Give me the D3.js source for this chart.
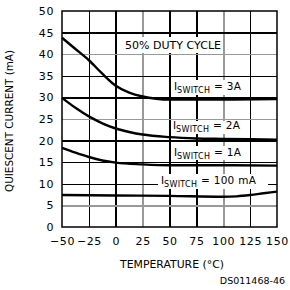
<!DOCTYPE html>
<html>
<head>
<meta charset="utf-8">
<script src="https://cdn.jsdelivr.net/npm/d3@7"></script>
<style>
  body { margin: 0; background: #fff; }
  svg text { font-family: "DejaVu Sans", sans-serif; fill: #000; }
  .grid .tick line { shape-rendering: crispEdges; }
</style>
</head>
<body>
<div id="chart"></div>
<script>
// temperature (C) vs quiescent current (mA)
var temps3A   = [-50, -37.5, -25, -12.5, 0, 12.5, 25, 37.5, 50, 100, 150];
var current3A = [43.8, 41.2, 38.6, 35.5, 32.7, 31.1, 30.2, 29.7, 29.5, 29.5, 29.6];

var temps2A   = [-50, -37.5, -25, -12.5, 0, 12.5, 25, 50, 75, 100, 150];
var current2A = [29.9, 27.6, 25.6, 24.0, 22.8, 22.0, 21.4, 20.8, 20.5, 20.4, 20.2];

var temps1A   = [-50, -37.5, -25, -12.5, 0, 25, 50, 100, 150];
var current1A = [18.3, 17.2, 16.2, 15.4, 14.9, 14.5, 14.3, 14.3, 14.2];

var temps100mA   = [-50, 0, 50, 100, 112.5, 125, 137.5, 150];
var current100mA = [7.4, 7.3, 7.2, 7.0, 7.1, 7.4, 7.8, 8.2];

var xTicks = [-50, -25, 0, 25, 50, 75, 100, 125, 150];
var yTicks = [0, 5, 10, 15, 20, 25, 30, 35, 40, 45, 50];
var grayX = [25, 100], thickX = [0, 75];
var grayY = [5, 25, 40];

var margin = {top: 11, right: 13, bottom: 63, left: 62};
var W = 290, H = 290;
var w = W - margin.left - margin.right, h = H - margin.top - margin.bottom;

var svg = d3.select('#chart').append('svg').attr('width', W).attr('height', H);
var g = svg.append('g').attr('transform', 'translate(' + margin.left + ',' + margin.top + ')');

var x = d3.scaleLinear().domain([-50, 150]).range([0, w]);
var y = d3.scaleLinear().domain([0, 50]).range([h, 0]);

// grid from axes with full-length ticks
var gridX = g.append('g').attr('class', 'grid').attr('transform', 'translate(0,' + h + ')')
    .call(d3.axisBottom(x).tickValues(xTicks.slice(1, -1)).tickSize(-h).tickFormat(''));
var gridY = g.append('g').attr('class', 'grid')
    .call(d3.axisLeft(y).tickValues(yTicks.slice(1, -1)).tickSize(-w).tickFormat(''));
gridX.select('.domain').remove();
gridY.select('.domain').remove();
gridX.selectAll('.tick line')
    .style('stroke', function(d) { return grayX.indexOf(d) >= 0 ? '#999' : '#000'; })
    .style('stroke-width', function(d) { return thickX.indexOf(d) >= 0 ? 2 : 1.5; })
    .style('opacity', 1);
gridY.selectAll('.tick line')
    .style('stroke', function(d) { return grayY.indexOf(d) >= 0 ? '#999' : '#000'; })
    .style('stroke-width', 1.5)
    .style('opacity', 1);

var line = d3.line().x(function(d) { return x(d[0]); }).y(function(d) { return y(d[1]); })
    .curve(d3.curveMonotoneX);

[[temps3A, current3A], [temps2A, current2A], [temps1A, current1A], [temps100mA, current100mA]]
  .forEach(function(s) {
    var pts = s[0].map(function(t, i) { return [t, s[1][i]]; });
    g.append('path').attr('d', line(pts)).attr('fill', 'none')
        .attr('stroke', '#000').attr('stroke-width', 2.4);
  });

// labels with white backing
function backing(x0, x1, yTop, yBot) {
    svg.append('rect').attr('x', x0).attr('y', yTop).attr('width', x1 - x0).attr('height', yBot - yTop)
        .attr('fill', '#fff');
}
function iswitch(x0, base, rest) {
    var t = svg.append('text').attr('x', x0).attr('y', base).attr('font-size', 10.5);
    t.append('tspan').text('I');
    t.append('tspan').attr('font-size', 8).attr('dy', 3).attr('letter-spacing', 0.3).text('SWITCH');
    t.append('tspan').attr('dy', -3).attr('letter-spacing', 0.3).text(rest);
}
backing(122, 222, 37, 53);
svg.append('text').attr('x', 125).attr('y', 49).attr('font-size', 10.5)
    .attr('textLength', 96).attr('lengthAdjust', 'spacingAndGlyphs').text('50% DUTY CYCLE');
backing(171, 250, 80, 95);  iswitch(174, 90, ' = 3A');
backing(171, 250, 121, 134); iswitch(173, 129, ' = 2A');
backing(171, 250, 146, 160); iswitch(174, 156, ' = 1A');
backing(158, 268, 174, 189); iswitch(161, 184, ' = 100 mA');

// frame
g.append('rect').attr('width', w).attr('height', h).attr('fill', 'none')
    .attr('stroke', '#000').attr('stroke-width', 1.5);

// axes
var xAxis = g.append('g').attr('transform', 'translate(0,' + h + ')')
    .call(d3.axisBottom(x).tickValues(xTicks).tickSize(0).tickPadding(10).tickFormat(d3.format('d')));
var yAxis = g.append('g')
    .call(d3.axisLeft(y).tickValues(yTicks).tickSize(0).tickPadding(8));
[xAxis, yAxis].forEach(function(a) {
    a.select('.domain').remove();
    a.selectAll('text').attr('font-size', 11).attr('letter-spacing', 0.6)
        .attr('font-family', '"DejaVu Sans", sans-serif');
});
xAxis.selectAll('text').text(function(d) { return d < 0 ? '\u2212' + (-d) : d; });

svg.append('text').attr('x', 172).attr('y', 268).attr('text-anchor', 'middle')
    .attr('font-size', 10.5).attr('textLength', 104).attr('lengthAdjust', 'spacingAndGlyphs')
    .text('TEMPERATURE (\u00B0C)');
svg.append('text').attr('transform', 'translate(13,121) rotate(-90)').attr('text-anchor', 'middle')
    .attr('font-size', 10.5).attr('textLength', 142).attr('lengthAdjust', 'spacingAndGlyphs')
    .text('QUIESCENT CURRENT (mA)');
svg.append('text').attr('x', 285).attr('y', 284).attr('text-anchor', 'end')
    .attr('font-size', 9.5).attr('font-family', '"Liberation Sans", Arial, sans-serif')
    .text('DS011468-46');
</script>
</body>
</html>
